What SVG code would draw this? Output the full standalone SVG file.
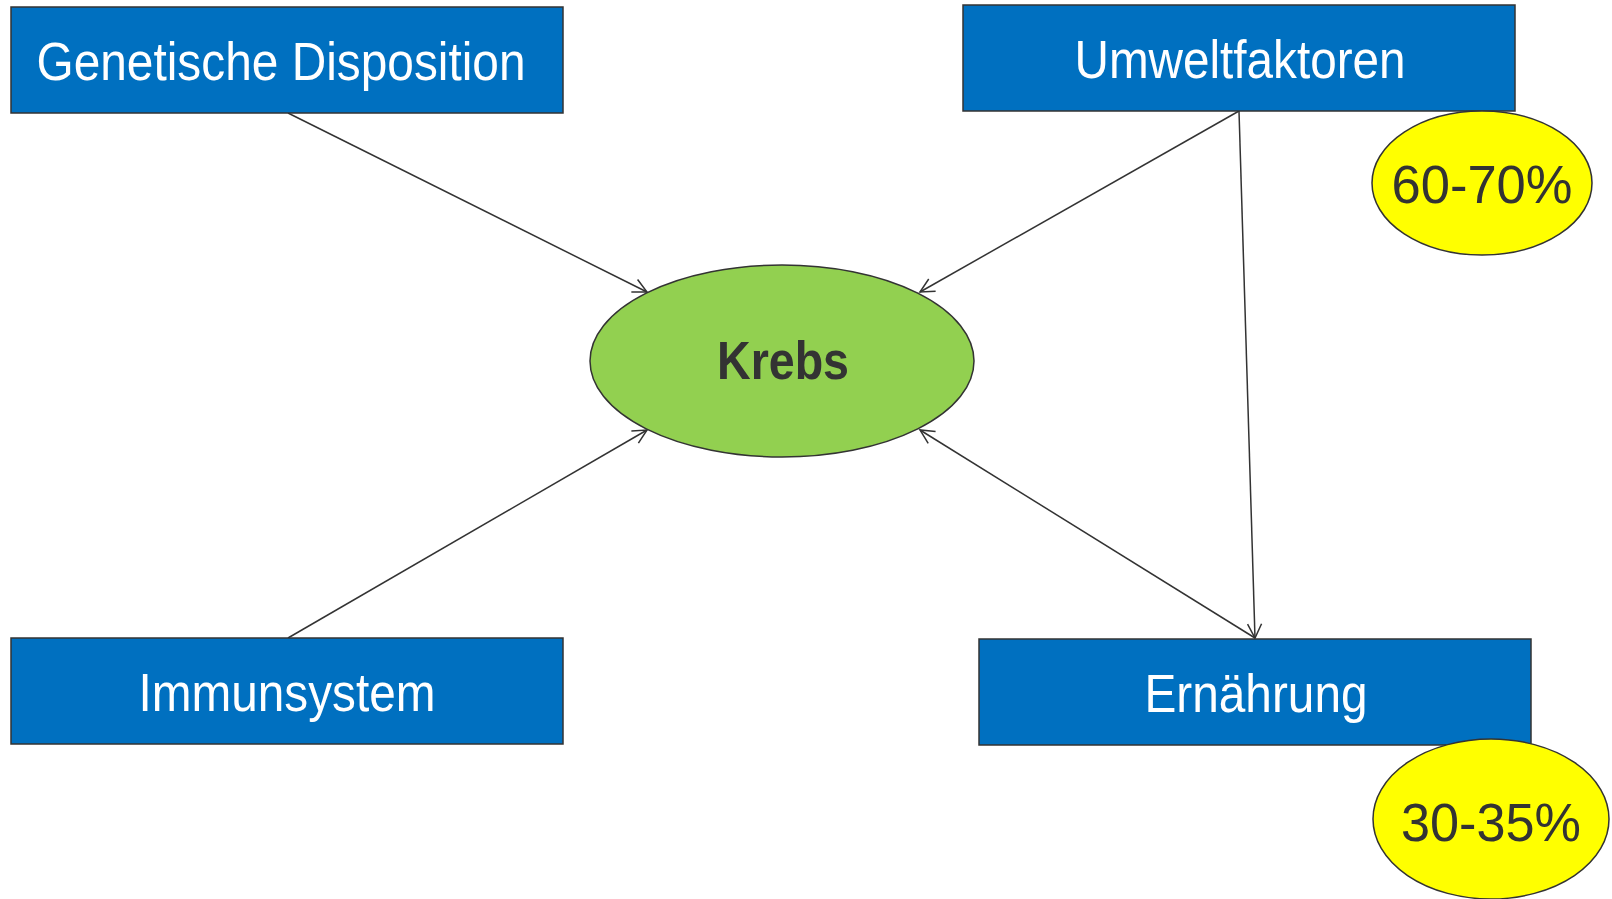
<svg xmlns="http://www.w3.org/2000/svg" width="1612" height="899" viewBox="0 0 1612 899">
<style>
.box{fill:#0070C0;stroke:#333;stroke-width:1.5}
.lbl{font-family:"Liberation Sans",Arial,sans-serif;font-size:53px;fill:#fff;text-anchor:middle}
.dark{fill:#333}
.bold{font-weight:bold}
.edge{stroke:#333;stroke-width:1.5;fill:none;marker-end:url(#arr)}
</style>
<defs>
<marker id="arr" markerUnits="userSpaceOnUse" markerWidth="18" markerHeight="18" refX="15" refY="8" orient="auto">
<path d="M1,1 L15,8 L1,15" fill="none" stroke="#333" stroke-width="1.5"/>
</marker>
</defs>
<rect width="1612" height="899" fill="#fff"/>
<g id="connectors">
<line class="edge" x1="288" y1="113" x2="647" y2="292"/>
<line class="edge" x1="1239" y1="111" x2="920" y2="292"/>
<line class="edge" x1="1239" y1="111" x2="1255" y2="638"/>
<line class="edge" x1="288" y1="638" x2="647" y2="430"/>
<line class="edge" x1="1255" y1="638" x2="920" y2="430"/>
</g>
<g id="genetische">
<rect class="box" x="11" y="7" width="552" height="106"/>
<text class="lbl" x="281" y="80" textLength="489" lengthAdjust="spacingAndGlyphs">Genetische Disposition</text>
</g>
<g id="umwelt">
<rect class="box" x="963" y="5" width="552" height="106"/>
<text class="lbl" x="1240" y="78" textLength="331" lengthAdjust="spacingAndGlyphs">Umweltfaktoren</text>
</g>
<g id="immunsystem">
<rect class="box" x="11" y="638" width="552" height="106"/>
<text class="lbl" x="287" y="711" textLength="297" lengthAdjust="spacingAndGlyphs">Immunsystem</text>
</g>
<g id="ernaehrung">
<rect class="box" x="979" y="639" width="552" height="106"/>
<text class="lbl" x="1256" y="712" textLength="223" lengthAdjust="spacingAndGlyphs">Ernährung</text>
</g>
<g id="krebs">
<ellipse cx="782" cy="361" rx="192" ry="96" fill="#92D050" stroke="#333" stroke-width="1.5"/>
<text class="lbl dark bold" x="783" y="379" textLength="132" lengthAdjust="spacingAndGlyphs">Krebs</text>
</g>
<g id="pct6070">
<ellipse cx="1482" cy="183" rx="110" ry="72" fill="#FFFF00" stroke="#333" stroke-width="1.5"/>
<text class="lbl dark" x="1482" y="203" font-size="53" textLength="181" lengthAdjust="spacingAndGlyphs">60-70%</text>
</g>
<g id="pct3035">
<ellipse cx="1491" cy="819" rx="118" ry="80" fill="#FFFF00" stroke="#333" stroke-width="1.5"/>
<text class="lbl dark" x="1491" y="841" font-size="53" textLength="180" lengthAdjust="spacingAndGlyphs">30-35%</text>
</g>
</svg>
